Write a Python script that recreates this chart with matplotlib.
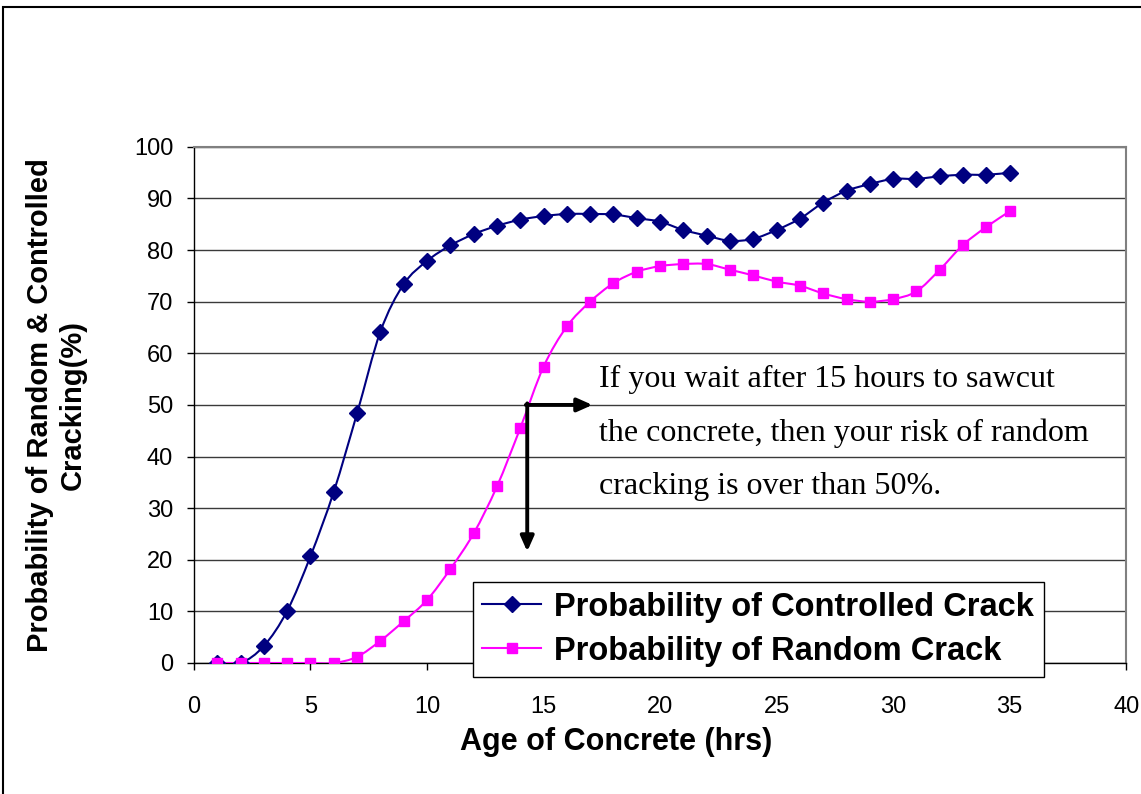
import numpy as np
import matplotlib
matplotlib.use("Agg")
import matplotlib.pyplot as plt
from matplotlib.path import Path
from matplotlib.patches import PathPatch, Rectangle

# ── data ────────────────────────────────────────────────────────────────
age_hrs = list(range(1, 36))

controlled = [0.0, 0.0, 3.3, 10.1, 20.7, 33.2, 48.4, 64.2, 73.4, 77.9,
              80.9, 83.1, 84.7, 85.9, 86.6, 87.0, 87.0, 86.9, 86.2, 85.5,
              83.9, 82.8, 81.8, 82.2, 83.9, 86.1, 89.2, 91.5, 92.8, 93.8,
              93.8, 94.3, 94.6, 94.6, 95.0]

random_crack = [0.0, 0.0, 0.0, 0.0, 0.0, 0.0, 1.2, 4.3, 8.1, 12.2,
                18.2, 25.1, 34.2, 45.5, 57.4, 65.2, 70.0, 73.6, 75.8, 76.9,
                77.3, 77.3, 76.2, 75.1, 73.9, 73.1, 71.6, 70.5, 70.0, 70.5,
                72.0, 76.2, 81.0, 84.5, 87.5]

series_labels = ["Probability of Controlled Crack", "Probability of Random Crack"]
series_colors = ["#000080", "#FF00FF"]
series_markers = ["D", "s"]

note_text = ("If you wait after 15 hours to sawcut\n"
             "the concrete, then your risk of random\n"
             "cracking is over than 50%.")

SANS = ["Liberation Sans", "DejaVu Sans"]
SERIF = ["Liberation Serif", "DejaVu Serif"]
MSIZE = {"D": 8.5, "s": 7.5}


def smooth_path(xs, ys, tension=1 / 6):
    """Excel-style smoothed line: cubic Bezier segments through the points."""
    pts = np.column_stack([np.asarray(xs, float), np.asarray(ys, float)])
    n = len(pts)
    verts = [pts[0]]
    codes = [Path.MOVETO]
    for i in range(n - 1):
        p0 = pts[i - 1] if i > 0 else pts[i]
        p1, p2 = pts[i], pts[i + 1]
        p3 = pts[i + 2] if i + 2 < n else pts[i + 1]
        verts += [p1 + (p2 - p0) * tension, p2 - (p3 - p1) * tension, p2]
        codes += [Path.CURVE4] * 3
    return Path(verts, codes)


fig = plt.figure(figsize=(11.41, 7.94), dpi=100)
ax = fig.add_axes([0.170, 0.165, 0.817, 0.650])

for ys, col, mk in zip([controlled, random_crack], series_colors, series_markers):
    ax.add_patch(PathPatch(smooth_path(age_hrs, ys), facecolor="none",
                           edgecolor=col, linewidth=1.5, zorder=3))
    ax.plot(age_hrs, ys, linestyle="none", marker=mk, color=col,
            markersize=MSIZE[mk], zorder=4)

legend_handles = [
    plt.Line2D([], [], color=c, marker=m, markersize=MSIZE[m], linewidth=1.5)
    for c, m in zip(series_colors, series_markers)
]

ax.set_xlim(0, 40)
ax.set_ylim(0, 100)
ax.set_xticks(np.arange(0, 41, 5))
ax.set_yticks(np.arange(0, 101, 10))
ax.tick_params(axis="both", direction="out", length=5, width=1, labelsize=17)
ax.tick_params(axis="x", pad=19)
ax.tick_params(axis="y", pad=10)
for lbl in ax.get_xticklabels() + ax.get_yticklabels():
    lbl.set_family(SANS)

ax.grid(axis="y", color="#3a3a3a", linewidth=1)
ax.set_axisbelow(True)
for side in ["top", "right"]:
    ax.spines[side].set_color("#808080")
    ax.spines[side].set_linewidth(1.5)
for side in ["left", "bottom"]:
    ax.spines[side].set_color("black")
    ax.spines[side].set_linewidth(1)

ax.set_xlabel("Age of Concrete (hrs)", fontsize=22, fontweight="bold",
              family=SANS)
ax.xaxis.set_label_coords(0.453, -0.124)
ax.set_ylabel("Probability of Random & Controlled\nCracking(%)", fontsize=21,
              fontweight="bold", family=SANS, labelpad=34, linespacing=1.2)

# annotation arrows
arrow_style = dict(arrowstyle="-|>,head_length=0.9,head_width=0.4",
                   color="black", lw=2.8, shrinkA=0, shrinkB=0)
ax.annotate("", xy=(14.3, 21.6), xytext=(14.3, 50.3),
            arrowprops=arrow_style, zorder=5)
ax.annotate("", xy=(17.1, 50), xytext=(14.24, 50),
            arrowprops=arrow_style, zorder=5)

ax.text(0.434, 0.578, note_text, transform=ax.transAxes, fontsize=23,
        family=SERIF, ha="left", va="top", linespacing=2.1, zorder=6)

leg = ax.legend(legend_handles, series_labels, loc="upper left",
                bbox_to_anchor=(0.299, 0.157), frameon=True, fancybox=False,
                framealpha=1, edgecolor="black", borderpad=0.3,
                handlelength=1.8, handletextpad=0.4, labelspacing=0.4,
                borderaxespad=0,
                prop={"family": SANS, "size": 23.5, "weight": "bold"})
leg.get_frame().set_linewidth(1)
leg.set_zorder(7)
leg.set_clip_on(False)

# outer frame of the chart
fig.patches.append(Rectangle((3 / 1141, -0.02), 1.05, 1.02 - 7 / 794,
                             transform=fig.transFigure, fill=False,
                             edgecolor="black", linewidth=1.5))

fig.savefig("out.png", dpi=100)
